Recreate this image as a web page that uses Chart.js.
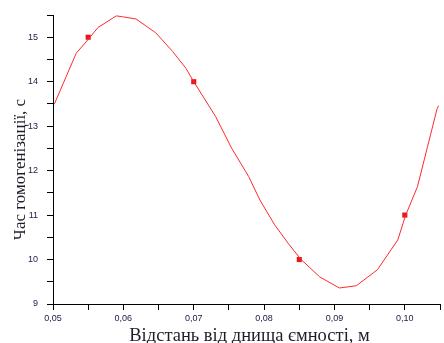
<!DOCTYPE html>
<html>
<head>
<meta charset="utf-8">
<script src="https://cdn.jsdelivr.net/npm/chart.js@4.4.1/dist/chart.umd.min.js"></script>
<style>
  html, body { margin: 0; padding: 0; background: #fff; }
  #wrap { width: 444px; height: 343px; position: relative; }
</style>
</head>
<body>
<div id="wrap"><canvas id="chart"></canvas></div>
<script>
const pointX = [0.055, 0.07, 0.085, 0.10];
const pointY = [15.0, 14.0, 10.0, 11.0];

const curveX = [0.0502, 0.0533, 0.055, 0.0564, 0.0590, 0.0599, 0.0618, 0.0646, 0.0670, 0.0689,
  0.0700, 0.0731, 0.0754, 0.0778, 0.0794, 0.0815, 0.0834, 0.0852, 0.0879, 0.0907,
  0.0931, 0.0961, 0.0990, 0.1001, 0.1018, 0.1032, 0.1046, 0.1048];
const curveY = [13.50, 14.64, 14.95, 15.22, 15.48, 15.46, 15.41, 15.10, 14.68, 14.30,
  14.00, 13.22, 12.50, 11.87, 11.34, 10.78, 10.37, 10.01, 9.61, 9.36,
  9.41, 9.77, 10.44, 10.99, 11.64, 12.52, 13.40, 13.46];

const xTitle = 'Відстань від днища ємності, м';
const yTitle = 'Час гомогенізації, с';

const curveData = curveX.map((x, i) => ({ x: x, y: curveY[i] }));
const pointData = pointX.map((x, i) => ({ x: x, y: pointY[i] }));

const axisTitles = {
  id: 'axisTitles',
  afterDraw(chart) {
    const ctx = chart.ctx;
    const area = chart.chartArea;
    ctx.save();
    ctx.fillStyle = '#1e1e2a';
    ctx.textAlign = 'center';
    ctx.textBaseline = 'alphabetic';
    ctx.font = '18.5px "Liberation Serif", "Times New Roman", serif';
    ctx.fillText(xTitle, (area.left + area.right) / 2 + 3, chart.height - 2);
    ctx.font = '17px "Liberation Serif", "Times New Roman", serif';
    ctx.translate(25, (area.top + area.bottom) / 2 + 10);
    ctx.rotate(-Math.PI / 2);
    ctx.fillText(yTitle, 0, 0);
    ctx.restore();
  }
};

const tickFont = { family: '"Liberation Sans", Arial, sans-serif', size: 9 };

new Chart(document.getElementById('chart').getContext('2d'), {
  type: 'scatter',
  data: {
    datasets: [
      {
        data: curveData,
        showLine: true,
        borderColor: '#ff2a2a',
        borderWidth: 1,
        pointRadius: 0,
        tension: 0
      },
      {
        data: pointData,
        showLine: false,
        pointStyle: 'rect',
        pointRadius: 3.6,
        backgroundColor: '#e8141e',
        borderColor: '#e8141e',
        borderWidth: 0
      }
    ]
  },
  options: {
    responsive: true,
    maintainAspectRatio: false,
    animation: false,
    layout: { padding: { top: 15, right: 1, left: 0, bottom: 0 } },
    plugins: { legend: { display: false }, tooltip: { enabled: false } },
    scales: {
      x: {
        type: 'linear',
        min: 0.05,
        max: 0.105,
        afterFit: s => { s.height = 39; },
        border: { color: '#000', width: 1 },
        grid: { drawOnChartArea: false, drawTicks: true, tickLength: 6, color: '#000' },
        ticks: {
          stepSize: 0.005,
          autoSkip: false,
          maxRotation: 0,
          padding: 3,
          color: '#20204a',
          font: tickFont,
          callback: v => Math.round(v * 1000) % 10 === 0 ? v.toFixed(2).replace('.', ',') : ''
        }
      },
      y: {
        min: 9,
        max: 15.5,
        afterFit: s => { s.width = 53; },
        border: { color: '#000', width: 1 },
        grid: { drawOnChartArea: false, drawTicks: true, tickLength: 6, color: '#000' },
        ticks: {
          stepSize: 0.5,
          autoSkip: false,
          padding: 9,
          color: '#20204a',
          font: tickFont,
          callback: v => Number.isInteger(v) ? String(v) : ''
        }
      }
    }
  },
  plugins: [axisTitles]
});
</script>
</body>
</html>
